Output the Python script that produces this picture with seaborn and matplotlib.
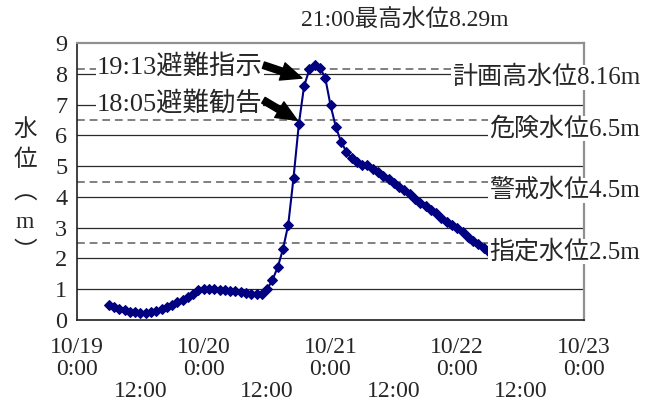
import numpy as np
import pandas as pd
import matplotlib
matplotlib.use('Agg')
import matplotlib.pyplot as plt
import seaborn as sns

# #
# Data: water level (m), hourly, hours counted from 10/19 0:00
hours = list(range(6, 79))
level = [0.48, 0.43, 0.37, 0.31, 0.27, 0.25, 0.24, 0.24, 0.27, 0.30,
         0.35, 0.42, 0.50, 0.57, 0.65, 0.74, 0.85, 0.96, 1.01, 1.02,
         1.01, 0.98, 0.96, 0.94, 0.93, 0.91, 0.88, 0.85, 0.84, 0.85,
         1.00, 1.30, 1.71, 2.30, 3.10, 4.62, 6.36, 7.60, 8.14, 8.29,
         8.19, 7.87, 6.98, 6.28, 5.79, 5.47, 5.25, 5.14, 5.03, 5.05,
         4.92, 4.81, 4.69, 4.58, 4.44, 4.31, 4.22, 4.09, 3.93, 3.81,
         3.70, 3.57, 3.48, 3.33, 3.19, 3.08, 2.98, 2.85, 2.71, 2.58,
         2.46, 2.33, 2.22]

tick_hours = list(range(0, 97, 12))
tick_labels = ['10/19\n0:00', '\n\n12:00', '10/20\n0:00', '\n\n12:00',
               '10/21\n0:00', '\n\n12:00', '10/22\n0:00', '\n\n12:00',
               '10/23\n0:00']

ref_levels = [8.16, 6.5, 4.5, 2.5]
ref_labels = ['計画高水位8.16m', '危険水位6.5m', '警戒水位4.5m', '指定水位2.5m']

df = pd.DataFrame({'hour': hours, 'level': level})

sns.set_style('white')
plt.rcParams['font.family'] = ['Liberation Serif', 'Noto Sans CJK JP']

fig = plt.figure(figsize=(6.64, 4.03), dpi=100)
ax = fig.add_axes([77/664, 1 - 320/403, 507/664, 277/403])

# Gridlines and reference levels
for y in range(1, 9):
    ax.axhline(y, color='#2a2a2a', lw=0.9, zorder=1)
for y in ref_levels:
    ax.axhline(y, color='#808080', lw=1.4, ls=(0, (4, 2.5)), zorder=1)

sns.lineplot(data=df, x='hour', y='level', ax=ax, color='#000080', lw=1.5,
             marker='D', markersize=5, markeredgecolor='#000080', zorder=3)

ax.set_xlim(0, 96)
ax.set_ylim(0, 9)
ax.set_yticks(range(10))
ax.set_xticks(tick_hours)
ax.set_xticklabels(tick_labels, fontsize=17, linespacing=1.08)
ax.tick_params(axis='y', length=0, labelsize=17.5, pad=7)
ax.tick_params(axis='x', direction='in', length=5, color='#555555', pad=12)
ax.set_xlabel('')
ax.set_ylabel('')

for side in ['top', 'right']:
    ax.spines[side].set_color('#909090')
    ax.spines[side].set_linewidth(1.6)
for side in ['left', 'bottom']:
    ax.spines[side].set_color('#202020')
    ax.spines[side].set_linewidth(1.2)

box = dict(facecolor='white', edgecolor='none', pad=0.5)

# Reference level labels on the right
for y, lab in zip(ref_levels, ref_labels):
    ax.text(106.6, y - 0.28, lab, ha='right', va='center', fontsize=18,
            bbox=box, zorder=6, clip_on=False)

# Evacuation notes with arrows
ax.text(3.8, 8.24, '19:13避難指示', ha='left', va='center', fontsize=19,
        bbox=box, zorder=6)
ax.text(3.8, 7.04, '18:05避難勧告', ha='left', va='center', fontsize=19,
        bbox=box, zorder=6)
arrow = dict(arrowstyle='simple,head_width=0.65,head_length=0.75,tail_width=0.24',
             fc='black', ec='black', mutation_scale=20, shrinkA=0, shrinkB=0)
ax.annotate('', xy=(42.6, 7.86), xytext=(35.3, 8.28), arrowprops=arrow, zorder=7)
ax.annotate('', xy=(41.7, 6.49), xytext=(35.3, 7.14), arrowprops=arrow, zorder=7)

# Peak note above the plot
ax.text(62.1, 9.74, '21:00最高水位8.29m', ha='center', va='center',
        fontsize=17, clip_on=False)

# Vertical y-axis label, one character per line (vertical-form brackets)
ylab_chars = ['水', '位', '︵', 'm', '︶']
ylab_y = [130, 160, 193, 222, 252]
for ch, py in zip(ylab_chars, ylab_y):
    fig.text(25/664, 1 - py/403, ch, ha='center', va='center', fontsize=17,
             family=['Noto Sans CJK JP', 'Liberation Serif'] if ch in '︵︶'
             else ['Liberation Serif', 'Noto Sans CJK JP'])

fig.savefig('out.png', dpi=100)
plt.close()
